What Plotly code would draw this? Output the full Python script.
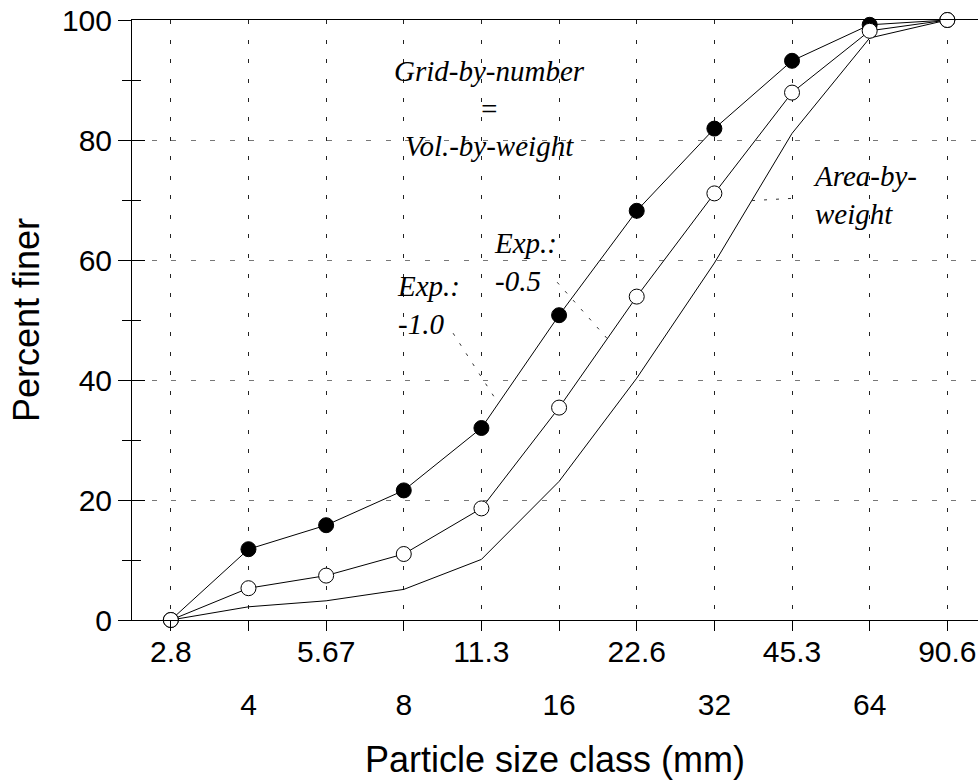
import plotly.graph_objects as go

# ---- data ----
size_classes = ["2.8", "4", "5.67", "8", "11.3", "16", "22.6", "32", "45.3", "64", "90.6"]
exp_minus_1_0 = [0, 11.8, 15.8, 21.6, 32.0, 50.8, 68.2, 81.9, 93.2, 99.2, 100]
exp_minus_0_5 = [0, 5.3, 7.4, 11.0, 18.6, 35.4, 53.9, 71.1, 87.9, 98.2, 100]
area_by_weight = [0, 2.2, 3.2, 5.1, 10.1, 23.1, 40.3, 59.5, 81.1, 97.0, 100]

y_ticks = [0, 20, 40, 60, 80, 100]

xpos = list(range(len(size_classes)))
even_idx = xpos[0::2]
odd_idx = xpos[1::2]

SANS = "Liberation Sans, Arial, sans-serif"
SERIF = "Liberation Serif, Times New Roman, serif"

fig = go.Figure()

fig.add_trace(go.Scatter(
    x=xpos, y=area_by_weight, mode="lines",
    line=dict(color="black", width=1), cliponaxis=False,
    name="Area-by-weight", showlegend=False))
fig.add_trace(go.Scatter(
    x=xpos, y=exp_minus_1_0, mode="lines+markers",
    line=dict(color="black", width=1),
    marker=dict(symbol="circle", size=15, color="black", line=dict(color="black", width=1)),
    cliponaxis=False, name="Exp.: -1.0", showlegend=False))
fig.add_trace(go.Scatter(
    x=xpos, y=exp_minus_0_5, mode="lines+markers",
    line=dict(color="black", width=1),
    marker=dict(symbol="circle", size=15, color="white", line=dict(color="black", width=1)),
    cliponaxis=False, name="Exp.: -0.5", showlegend=False))

XR = [-0.5, 10.395]

fig.update_layout(
    width=978, height=780,
    margin=dict(l=132, r=0, t=20, b=160, autoexpand=False),
    paper_bgcolor="white", plot_bgcolor="white",
    font=dict(family=SANS, size=30, color="black"),
    xaxis=dict(
        range=XR, tickmode="array", tickvals=even_idx,
        ticktext=[size_classes[i] for i in even_idx],
        ticks="outside", ticklen=10, tickcolor="black", tickwidth=1,
        ticklabelstandoff=-5, automargin=False, ticklabeloverflow="allow",
        showline=True, linecolor="black", linewidth=1.3, mirror=True,
        showgrid=True, gridcolor="#222", gridwidth=1, griddash="4px,15.5px",
        zeroline=False,
        tickfont=dict(size=30),
    ),
    xaxis2=dict(
        range=XR, overlaying="x", anchor="y", side="bottom",
        tickmode="array", tickvals=odd_idx,
        ticktext=[size_classes[i] for i in odd_idx],
        ticks="outside", ticklen=10, tickcolor="black", tickwidth=1,
        ticklabelstandoff=48, automargin=False, ticklabeloverflow="allow",
        showline=False,
        showgrid=True, gridcolor="#222", gridwidth=1, griddash="4px,15.5px",
        zeroline=False,
        tickfont=dict(size=30),
        title=dict(text="Particle size class (mm)", font=dict(size=36), standoff=28),
    ),
    yaxis=dict(
        range=[0, 100], tickmode="array", tickvals=y_ticks,
        ticks="outside", ticklen=13, tickcolor="black", tickwidth=1,
        minor=dict(dtick=10, tick0=0, ticks="outside", ticklen=9, tickcolor="black", showgrid=False),
        ticklabelstandoff=0, automargin=False, ticklabeloverflow="allow",
        showline=True, linecolor="black", linewidth=1,
        showgrid=True, gridcolor="#777", gridwidth=1, griddash="5px,14.5px",
        zeroline=False,
        tickfont=dict(size=30),
    ),
    yaxis2=dict(
        range=[0, 100], overlaying="y", anchor="x", side="left",
        tickmode="array", tickvals=y_ticks, showticklabels=False,
        ticks="inside", ticklen=13, tickcolor="black", tickwidth=1,
        minor=dict(dtick=10, tick0=0, ticks="inside", ticklen=9, tickcolor="black", showgrid=False),
        showline=False, showgrid=False, zeroline=False, automargin=False,
        title=dict(text="Percent finer", font=dict(size=36), standoff=80),
    ),
    showlegend=False,
)

# invisible traces to activate overlay axes
fig.add_trace(go.Scatter(x=[None], y=[None], xaxis="x2", yaxis="y", hoverinfo="skip", showlegend=False))
fig.add_trace(go.Scatter(x=[None], y=[None], xaxis="x", yaxis="y2", hoverinfo="skip", showlegend=False))

ann_font = dict(family=SERIF, size=29, color="black", style="italic")
fig.add_annotation(x=4.11, y=85.2, xref="x", yref="y", showarrow=False,
                   text="Grid-by-number<br>=<br>Vol.-by-weight", align="center",
                   xanchor="center", yanchor="middle", font=ann_font)
fig.add_annotation(x=4.14, y=59.6, xref="x", yref="y", showarrow=False,
                   text="Exp.:<br>-0.5", align="left",
                   xanchor="left", yanchor="middle", font=ann_font)
fig.add_annotation(x=2.89, y=52.5, xref="x", yref="y", showarrow=False,
                   text="Exp.:<br>-1.0", align="left",
                   xanchor="left", yanchor="middle", font=ann_font)
fig.add_annotation(x=8.24, y=70.9, xref="x", yref="y", showarrow=False,
                   text="Area-by-<br>weight", align="left",
                   xanchor="left", yanchor="middle", font=ann_font)

# leader lines
leaders = [
    (3.635, 47.8, 4.213, 36.2),
    (4.975, 56.3, 5.62, 46.9),
    (7.485, 69.9, 8.04, 70.3),
]
for x0, y0, x1, y1 in leaders:
    fig.add_shape(type="line", xref="x", yref="y", x0=x0, y0=y0, x1=x1, y1=y1,
                  line=dict(color="#333", width=1, dash="3px,9px"))

fig.write_html(
    "out.html",
    config={"displayModeBar": False},
    post_script="document.body.style.margin='0';document.body.style.overflow='hidden';",
)
